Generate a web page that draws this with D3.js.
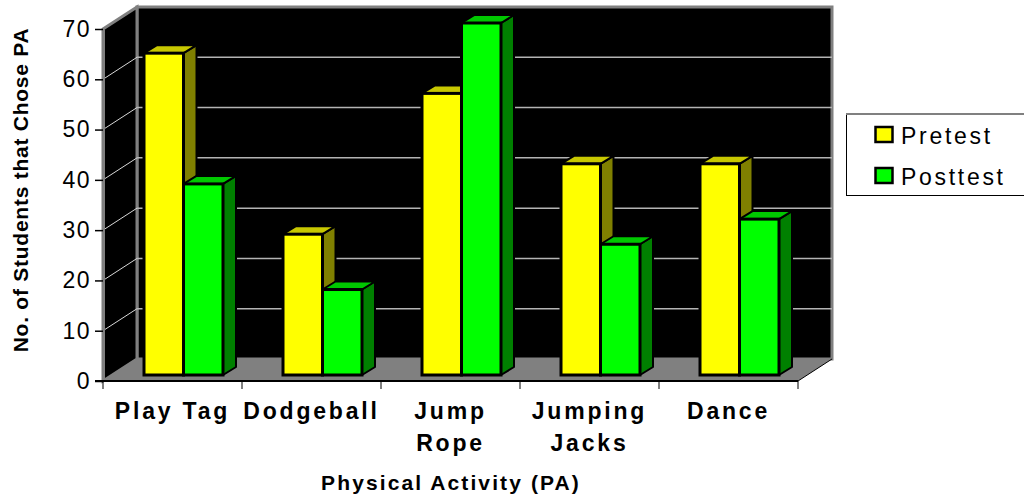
<!DOCTYPE html>
<html>
<head>
<meta charset="utf-8">
<script src="https://d3js.org/d3.v7.min.js"></script>
<style>
  html, body { margin: 0; padding: 0; background: #fff; }
  svg { display: block; }
  text { font-family: "Liberation Sans", Arial, sans-serif; fill: #000; }
  .axis-y text { font-size: 23px; letter-spacing: 1.5px; }
  .cat { font-size: 23px; font-weight: bold; letter-spacing: 2.8px; text-anchor: middle; }
  .title { font-size: 21px; font-weight: bold; text-anchor: middle; }
  .legend-text { font-size: 23px; letter-spacing: 2.7px; }
</style>
</head>
<body>
<svg id="chart" width="1024" height="500"></svg>
<script>
const categories = [["Play Tag"], ["Dodgeball"], ["Jump", "Rope"], ["Jumping", "Jacks"], ["Dance"]];
const seriesNames = ["Pretest", "Posttest"];
const pretest = [64, 28, 56, 42, 42];
const posttest = [38, 17, 70, 26, 31];
const yTicks = [0, 10, 20, 30, 40, 50, 60, 70];

const colors = {
  Pretest: { front: "#ffff00", top: "#c8c800", side: "#808000" },
  Posttest: { front: "#00ff00", top: "#00c800", side: "#008000" },
};

const width = 1024,
  height = 500;
const left = 103,
  right = 798,
  bottom = 381,
  top_ = 29;
// offset of the back wall, and of a bar's depth
const depth = { x: 34, y: -22 };
const barDepth = { x: 13, y: -8 };
const barShift = { x: 0, y: -6 };

const svg = d3.select("#chart").attr("viewBox", [0, 0, width, height]);

const X = d3
  .scaleBand()
  .domain(d3.range(categories.length))
  .range([left, right]);
const Y = d3.scaleLinear().domain([0, 70]).range([bottom, top_]);
const inner = d3
  .scaleBand()
  .domain(seriesNames)
  .range([41, 41 + 79]);

const pts = (a) => a.map((p) => p.join(",")).join(" ");

// walls and floor
const walls = svg.append("g");
walls
  .append("polygon")
  .attr("points", pts([
    [left + depth.x, Y(70) + depth.y],
    [right + depth.x, Y(70) + depth.y],
    [right + depth.x, Y(0) + depth.y],
    [left + depth.x, Y(0) + depth.y],
  ]))
  .attr("fill", "#000")
  .attr("stroke", "#808080")
  .attr("stroke-width", 3);
walls
  .append("polygon")
  .attr("points", pts([
    [left, Y(70)],
    [left + depth.x, Y(70) + depth.y],
    [left + depth.x, Y(0) + depth.y],
    [left, Y(0)],
  ]))
  .attr("fill", "#000")
  .attr("stroke", "#808080")
  .attr("stroke-width", 3);

const grid = svg.append("g");
grid
  .selectAll(".grid-back")
  .data(yTicks.slice(1, -1))
  .join("line")
  .attr("class", "grid-back")
  .attr("x1", left + depth.x)
  .attr("x2", right + depth.x)
  .attr("y1", (d) => Y(d) + depth.y)
  .attr("y2", (d) => Y(d) + depth.y)
  .attr("stroke", "#b4b4b4")
  .attr("stroke-width", 1.5);
grid
  .selectAll(".grid-side")
  .data(yTicks.slice(1, -1))
  .join("line")
  .attr("class", "grid-side")
  .attr("x1", left)
  .attr("x2", left + depth.x)
  .attr("y1", (d) => Y(d))
  .attr("y2", (d) => Y(d) + depth.y)
  .attr("stroke", "#d8d8d8")
  .attr("stroke-width", 1);

walls
  .append("polygon")
  .attr("points", pts([
    [left, Y(0)],
    [right, Y(0)],
    [right + depth.x, Y(0) + depth.y],
    [left + depth.x, Y(0) + depth.y],
  ]))
  .attr("fill", "#808080");
svg
  .append("polyline")
  .attr("points", pts([
    [right, Y(0)],
    [right + depth.x, Y(0) + depth.y],
  ]))
  .attr("stroke", "#000")
  .attr("stroke-width", 1)
  .attr("fill", "none");

// bars, pretest first so posttest's edge sits on top
const bars = svg.append("g");
seriesNames.forEach((name, s) => {
  const values = s === 0 ? pretest : posttest;
  const g = bars.append("g").attr("class", name);
  values.forEach((v, i) => {
    const x0 = X(i) + inner(name) + barShift.x;
    const x1 = x0 + inner.bandwidth();
    const y0 = Y(v) + barShift.y;
    const y1 = Y(0) + barShift.y;
    g.append("polygon")
      .attr("points", pts([
        [x1, y0],
        [x1 + barDepth.x, y0 + barDepth.y],
        [x1 + barDepth.x, y1 + barDepth.y],
        [x1, y1],
      ]))
      .attr("fill", colors[name].side)
      .attr("stroke", "#000")
      .attr("stroke-width", 2)
      .attr("stroke-linejoin", "round");
    g.append("polygon")
      .attr("points", pts([
        [x0, y0],
        [x0 + barDepth.x, y0 + barDepth.y],
        [x1 + barDepth.x, y0 + barDepth.y],
        [x1, y0],
      ]))
      .attr("fill", colors[name].top)
      .attr("stroke", "#000")
      .attr("stroke-width", 2)
      .attr("stroke-linejoin", "round");
    g.append("rect")
      .attr("x", x0)
      .attr("y", y0)
      .attr("width", x1 - x0)
      .attr("height", y1 - y0)
      .attr("fill", colors[name].front)
      .attr("stroke", "#000")
      .attr("stroke-width", 3);
  });
});

// axes
const yAxis = d3.axisLeft(Y).tickValues(yTicks).tickSize(8).tickSizeOuter(0).tickPadding(4);
svg
  .append("g")
  .attr("class", "axis-y")
  .attr("transform", `translate(${left},0)`)
  .call(yAxis)
  .call((g) => g.select(".domain").attr("stroke", "#808080").attr("stroke-width", 3))
  .call((g) => g.selectAll(".tick line").attr("stroke", "#000").attr("stroke-width", 1.5));

const xLine = svg.append("g");
xLine
  .append("line")
  .attr("x1", left - 8)
  .attr("x2", right)
  .attr("y1", Y(0))
  .attr("y2", Y(0))
  .attr("stroke", "#000")
  .attr("stroke-width", 2);
xLine
  .selectAll(".x-tick")
  .data(d3.range(categories.length + 1))
  .join("line")
  .attr("class", "x-tick")
  .attr("x1", (d) => left + d * X.bandwidth())
  .attr("x2", (d) => left + d * X.bandwidth())
  .attr("y1", Y(0))
  .attr("y2", Y(0) + 8)
  .attr("stroke", "#000")
  .attr("stroke-width", 1);

categories.forEach((lines, i) => {
  lines.forEach((line, k) => {
    svg
      .append("text")
      .attr("class", "cat")
      .attr("x", X(i) + X.bandwidth() / 2)
      .attr("y", 419 + k * 32)
      .text(line);
  });
});

svg
  .append("text")
  .attr("class", "title")
  .attr("x", 451)
  .attr("y", 490)
  .attr("letter-spacing", 2.1)
  .text("Physical Activity (PA)");
svg
  .append("text")
  .attr("class", "title")
  .attr("transform", "translate(28,190) rotate(-90)")
  .attr("letter-spacing", 0.75)
  .text("No. of Students that Chose PA");

// legend, box runs off the right edge
const legend = svg.append("g");
legend
  .append("rect")
  .attr("x", 846.5)
  .attr("y", 113.5)
  .attr("width", 190)
  .attr("height", 82)
  .attr("fill", "#fff")
  .attr("stroke", "#000")
  .attr("stroke-width", 1);
legend
  .append("line")
  .attr("x1", 846)
  .attr("x2", 1024)
  .attr("y1", 114)
  .attr("y2", 114)
  .attr("stroke", "#808080")
  .attr("stroke-width", 2);
seriesNames.forEach((name, s) => {
  legend
    .append("rect")
    .attr("x", 875.5)
    .attr("y", 127 + s * 41)
    .attr("width", 17)
    .attr("height", 15)
    .attr("fill", colors[name].front)
    .attr("stroke", "#000")
    .attr("stroke-width", 2.5);
  legend
    .append("text")
    .attr("class", "legend-text")
    .attr("x", 901)
    .attr("y", 144 + s * 41)
    .text(name);
});
</script>
</body>
</html>
